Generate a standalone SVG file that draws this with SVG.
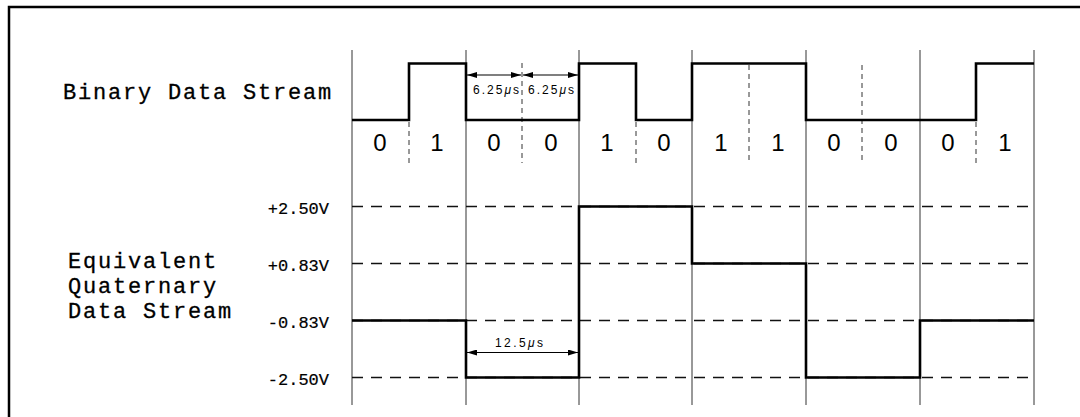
<svg xmlns="http://www.w3.org/2000/svg" width="1080" height="417" viewBox="0 0 1080 417">
<defs>
<style>
.frame{fill:none;stroke:#000;stroke-width:2.5}
.grid{fill:none;stroke:#333;stroke-width:1}
.vdash{fill:none;stroke:#333;stroke-width:1;stroke-dasharray:5 4}
.hdash{fill:none;stroke:#111;stroke-width:1.6;stroke-dasharray:11 8}
.sig{fill:none;stroke:#000;stroke-width:2.6;stroke-linejoin:miter}
.dim{fill:none;stroke:#000;stroke-width:1.1;marker-start:url(#ah);marker-end:url(#ah)}
.title{font-family:"Liberation Mono","DejaVu Sans Mono",monospace;font-size:22px;letter-spacing:1.8px;fill:#000;stroke:#000;stroke-width:0.3}
.volt{font-family:"Liberation Mono","DejaVu Sans Mono",monospace;font-size:17px;fill:#000;text-anchor:end;stroke:#000;stroke-width:0.2}
.bit{font-family:"Liberation Sans",Arial,sans-serif;font-size:24px;fill:#000;text-anchor:middle}
.dimt{font-family:"Liberation Sans",Arial,sans-serif;font-size:12px;fill:#000;text-anchor:middle}
</style>
<marker id="ah" viewBox="0 0 10 6" refX="10" refY="3" markerWidth="10" markerHeight="6" markerUnits="userSpaceOnUse" orient="auto-start-reverse">
<path d="M0,0 L10,3 L0,6 Z" fill="#000"/>
</marker>
</defs>
<rect width="1080" height="417" fill="#fff"/>
<path class="frame" d="M9,417 V7 H1080"/>

<g id="grid">
<path class="grid" d="M352,50 V405 M466,50 V405 M579,50 V405 M692,50 V405 M806,50 V405 M920,50 V405 M1034,50 V405"/>
<path class="vdash" d="M409,122 V163 M522,63 V163 M636,122 V163 M749,65 V163 M862,65 V163 M976,122 V163"/>
<path class="hdash" d="M352,206.5 H1034 M352,263.5 H1034 M352,320.5 H1034 M352,377.5 H1034"/>
</g>

<g id="binary-label"><text class="title" x="63" y="99">Binary Data Stream</text></g>

<g id="binary-signal">
<path class="sig" d="M352,120 H409 V63.5 H466 V120 H579 V63.5 H636 V120 H692 V63.5 H806 V120 H976 V63.5 H1034"/>
</g>

<g id="bits">
<text class="bit" x="380" y="151">0</text>
<text class="bit" x="437" y="151">1</text>
<text class="bit" x="494" y="151">0</text>
<text class="bit" x="551" y="151">0</text>
<text class="bit" x="607" y="151">1</text>
<text class="bit" x="664" y="151">0</text>
<text class="bit" x="721" y="151">1</text>
<text class="bit" x="778" y="151">1</text>
<text class="bit" x="834" y="151">0</text>
<text class="bit" x="891" y="151">0</text>
<text class="bit" x="948" y="151">0</text>
<text class="bit" x="1005" y="151">1</text>
</g>

<g id="quaternary-label">
<text class="title" x="68" y="268">Equivalent</text>
<text class="title" x="68" y="293">Quaternary</text>
<text class="title" x="68" y="318">Data Stream</text>
</g>

<g id="levels">
<text class="volt" x="329" y="214">+2.50V</text>
<text class="volt" x="329" y="271">+0.83V</text>
<text class="volt" x="329" y="328">-0.83V</text>
<text class="volt" x="329" y="385">-2.50V</text>
</g>

<g id="quaternary-signal">
<path class="sig" d="M352,320.5 H466 V377.5 H579 V206.5 H692 V263.5 H806 V377.5 H920 V320.5 H1034"/>
</g>

<g id="connectors">
<path class="dim" d="M467,75 H521"/>
<path class="dim" d="M523,75 H578"/>
<path class="dim" d="M467,352.5 H578"/>
</g>

<g id="dim-labels">
<text class="dimt" x="496" y="94" textLength="46" lengthAdjust="spacing">6.25<tspan font-style="italic">μ</tspan>s</text>
<text class="dimt" x="551" y="94" textLength="46" lengthAdjust="spacing">6.25<tspan font-style="italic">μ</tspan>s</text>
<text class="dimt" x="519" y="347" textLength="48" lengthAdjust="spacing">12.5<tspan font-style="italic">μ</tspan>s</text>
</g>
</svg>
